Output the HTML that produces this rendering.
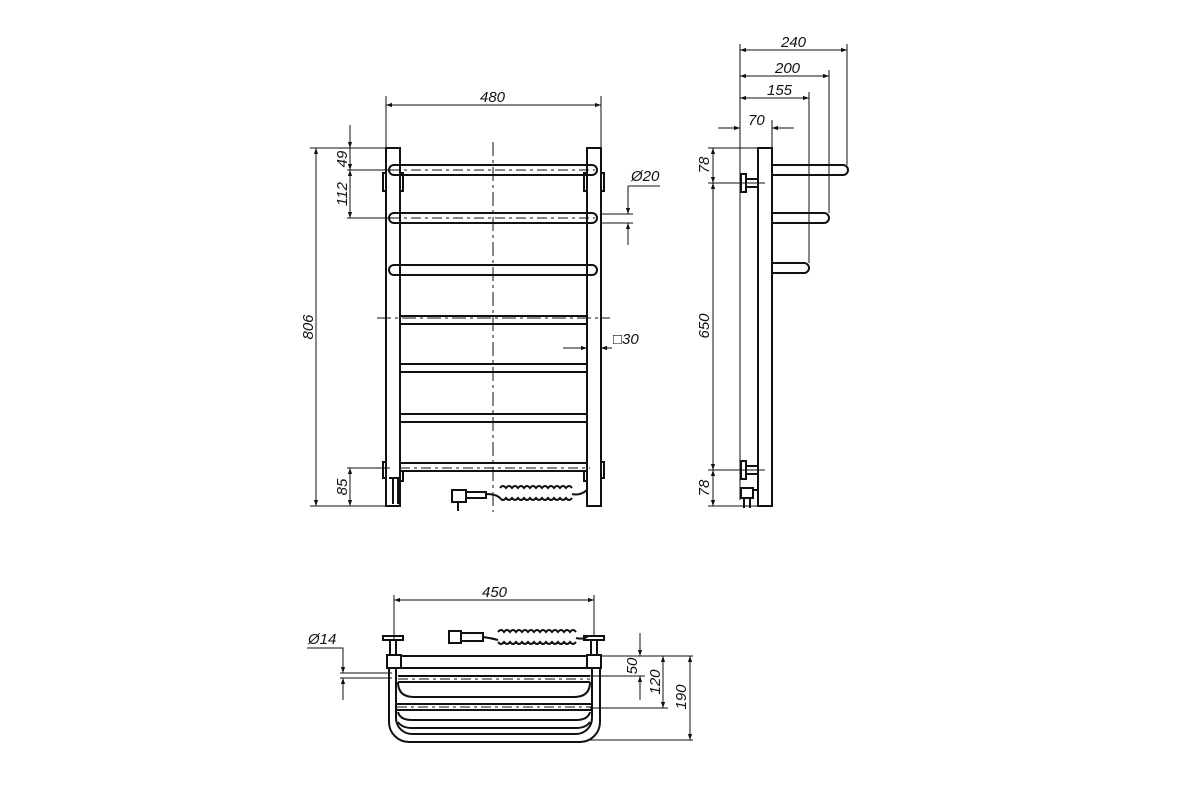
<!DOCTYPE html>
<html><head><meta charset="utf-8"><style>
html,body{margin:0;padding:0;background:#fff;}
svg{display:block}
text{font-family:"Liberation Sans",sans-serif;font-style:italic;font-size:15px;fill:#111}
</style></head><body>
<svg width="1200" height="800" viewBox="0 0 1200 800" xmlns="http://www.w3.org/2000/svg">
<defs>
<marker id="a" viewBox="0 0 10 10" refX="10" refY="5" markerWidth="9" markerHeight="6" orient="auto-start-reverse" markerUnits="userSpaceOnUse"><path d="M0,1.5 L10,5 L0,8.5z" fill="#111"/></marker>
</defs>
<rect width="1200" height="800" fill="#fff"/>
<g stroke="#111" fill="none">
<!-- ===== FRONT VIEW ===== -->
<g stroke-width="2">
<rect x="386" y="148" width="14" height="358"/>
<rect x="587" y="148" width="14" height="358"/>
<rect x="389" y="165" width="208" height="10" rx="5"/>
<rect x="389" y="213" width="208" height="10" rx="5"/>
<rect x="389" y="265" width="208" height="10" rx="5"/>
<rect x="400" y="316" width="187" height="8"/>
<rect x="400" y="364" width="187" height="8"/>
<rect x="400" y="414" width="187" height="8"/>
<rect x="400" y="463" width="187" height="8"/>
<path d="M386,173 h-3 v18 h3 M400,173 h3 v18 h-3 M587,173 h-3 v18 h3 M601,173 h3 v18 h-3"/>
<path d="M386,462 h-3 v16 h3 M601,462 h3 v16 h-3 M400,471 h3 v10 h-3 M587,471 h-3 v10 h3"/>
<path d="M389,478 h9 v26 M393,478 v26"/>
<path d="M452,490 h14 v12 h-14z M466,492 h20 v6 h-20 M458,502 v9"/>
<path d="M486,494 q10,0 14,4"/>
<path d="M500,488 q3,-4 6,0 q3,-4 6,0 q3,-4 6,0 q3,-4 6,0 q3,-4 6,0 q3,-4 6,0 q3,-4 6,0 q3,-4 6,0 q3,-4 6,0 q3,-4 6,0 q3,-4 6,0 q3,-4 6,0 M500,498 q3,4 6,0 q3,4 6,0 q3,4 6,0 q3,4 6,0 q3,4 6,0 q3,4 6,0 q3,4 6,0 q3,4 6,0 q3,4 6,0 q3,4 6,0 q3,4 6,0 q3,4 6,0 M572,494 q8,2 15,-4"/>
</g>
<g stroke-width="1">
<path d="M493,142 V512" stroke-dasharray="14,4,3,4"/>
<path d="M377,318 H610" stroke-dasharray="14,4,3,4"/>
<path d="M390,170 H595 M390,218 H595 M400,468 H590" stroke-dasharray="10,4,3,4"/>
<path d="M386,96 V148 M601,96 V148"/>
<path d="M386,105 H601" marker-start="url(#a)" marker-end="url(#a)"/>
<path d="M310,148 H386 M310,506 H386"/>
<path d="M316,148 V506" marker-start="url(#a)" marker-end="url(#a)"/>
<path d="M347,170 H390 M347,218 H390 M347,468 H390"/>
<path d="M350,125 V148" marker-end="url(#a)"/>
<path d="M350,148 V170" marker-end="url(#a)"/>
<path d="M350,170 V218" marker-start="url(#a)" marker-end="url(#a)"/>
<path d="M350,468 V506" marker-start="url(#a)" marker-end="url(#a)"/>
<path d="M600,214 H633 M600,223 H633"/>
<path d="M628,186 V214" marker-end="url(#a)"/>
<path d="M628,245 V223" marker-end="url(#a)"/>
<path d="M628,186 H660"/>
<path d="M563,348 H587" marker-end="url(#a)"/>
<path d="M612,348 H601" marker-end="url(#a)"/>
</g>
<!-- ===== SIDE VIEW ===== -->
<g stroke-width="2">
<rect x="758" y="148" width="14" height="358"/>
<path d="M772,165 H843 a5,5 0 0 1 0,10 H772"/>
<path d="M772,213 H824 a5,5 0 0 1 0,10 H772"/>
<path d="M772,263 H804 a5,5 0 0 1 0,10 H772"/>
<rect x="741" y="174" width="5" height="18"/>
<path d="M746,179 H758 M746,187 H758"/>
<rect x="741" y="461" width="5" height="18"/>
<path d="M746,466 H758 M746,474 H758"/>
<path d="M741,488 h12 v10 h-12z M744,498 v10 M750,498 v10 M753,490 h5"/>
</g>
<g stroke-width="1">
<path d="M740,44 V500"/>
<path d="M847,44 V165 M829,70 V213 M809,92 V263 M772,120 V148"/>
<path d="M740,50 H847" marker-start="url(#a)" marker-end="url(#a)"/>
<path d="M740,76 H829" marker-start="url(#a)" marker-end="url(#a)"/>
<path d="M740,98 H809" marker-start="url(#a)" marker-end="url(#a)"/>
<path d="M718,128 H740" marker-end="url(#a)"/>
<path d="M794,128 H772" marker-end="url(#a)"/>
<path d="M708,148 H765 M708,183 H765 M708,470 H765 M708,506 H765"/>
<path d="M713,148 V183" marker-start="url(#a)" marker-end="url(#a)"/>
<path d="M713,183 V470" marker-start="url(#a)" marker-end="url(#a)"/>
<path d="M713,470 V506" marker-start="url(#a)" marker-end="url(#a)"/>
</g>
<!-- ===== TOP VIEW ===== -->
<g stroke-width="2">
<path d="M383,636 h20 v4 h-20z M584,636 h20 v4 h-20z"/>
<path d="M390,640 v15 M396,640 v15 M591,640 v15 M597,640 v15"/>
<rect x="387" y="655" width="14" height="13"/>
<rect x="587" y="655" width="14" height="13"/>
<path d="M401,656 H587 M401,668 H587"/>
<path d="M389,668 V722 a20,20 0 0 0 20,20 H580 a20,20 0 0 0 20,-20 V668"/>
<path d="M396,668 V718 a16,16 0 0 0 16,16 H576 a16,16 0 0 0 16,-16 V668"/>
<path d="M398,676 H590 M398,682 H590"/>
<path d="M398,682 q0,15 16,15 H574 q16,0 16,-15"/>
<path d="M397,704 H592 M397,710 H592"/>
<path d="M398,712 q2,8 14,8 H576 q12,0 14,-8"/>
<path d="M398,722 q4,6 14,6 H576 q10,0 14,-6"/>
<path d="M449,631 h12 v12 h-12z M461,633 h22 v8 h-22"/>
<path d="M483,637 q8,1 15,3"/>
<path d="M498,632 q3,-4 6,0 q3,-4 6,0 q3,-4 6,0 q3,-4 6,0 q3,-4 6,0 q3,-4 6,0 q3,-4 6,0 q3,-4 6,0 q3,-4 6,0 q3,-4 6,0 q3,-4 6,0 q3,-4 6,0 q3,-4 6,0 M498,642 q3,4 6,0 q3,4 6,0 q3,4 6,0 q3,4 6,0 q3,4 6,0 q3,4 6,0 q3,4 6,0 q3,4 6,0 q3,4 6,0 q3,4 6,0 q3,4 6,0 q3,4 6,0 q3,4 6,0 M576,638 q8,2 12,-2"/>
</g>
<g stroke-width="1">
<path d="M394,595 V640 M594,595 V636"/>
<path d="M394,600 H594" marker-start="url(#a)" marker-end="url(#a)"/>
<path d="M600,656 H693 M590,676 H645 M590,708 H668 M590,740 H693"/>
<path d="M640,633 V656" marker-end="url(#a)"/>
<path d="M640,700 V676" marker-end="url(#a)"/>
<path d="M663,656 V708" marker-start="url(#a)" marker-end="url(#a)"/>
<path d="M690,656 V740" marker-start="url(#a)" marker-end="url(#a)"/>
<path d="M307,648 H343 V673" />
<path d="M343,660 V673" marker-end="url(#a)"/>
<path d="M343,700 V678" marker-end="url(#a)"/>
<path d="M340,673 H392 M340,678 H392"/>
<path d="M398,679 H590 M397,707 H592" stroke-dasharray="10,4,3,4"/>
</g>
</g>
<!-- TEXT -->
<text x="480" y="102">480</text>
<text transform="translate(313,327) rotate(-90)" text-anchor="middle">806</text>
<text transform="translate(347,159) rotate(-90)" text-anchor="middle">49</text>
<text transform="translate(347,194) rotate(-90)" text-anchor="middle">112</text>
<text transform="translate(347,487) rotate(-90)" text-anchor="middle">85</text>
<text x="631" y="181">Ø20</text>
<text x="613" y="344">□30</text>
<text x="781" y="47">240</text>
<text x="775" y="73">200</text>
<text x="767" y="95">155</text>
<text x="748" y="125">70</text>
<text transform="translate(709,165) rotate(-90)" text-anchor="middle">78</text>
<text transform="translate(709,326) rotate(-90)" text-anchor="middle">650</text>
<text transform="translate(709,488) rotate(-90)" text-anchor="middle">78</text>
<text x="482" y="597">450</text>
<text x="308" y="644">Ø14</text>
<text transform="translate(637,666) rotate(-90)" text-anchor="middle">50</text>
<text transform="translate(660,682) rotate(-90)" text-anchor="middle">120</text>
<text transform="translate(686,697) rotate(-90)" text-anchor="middle">190</text>
</svg>
</body></html>
